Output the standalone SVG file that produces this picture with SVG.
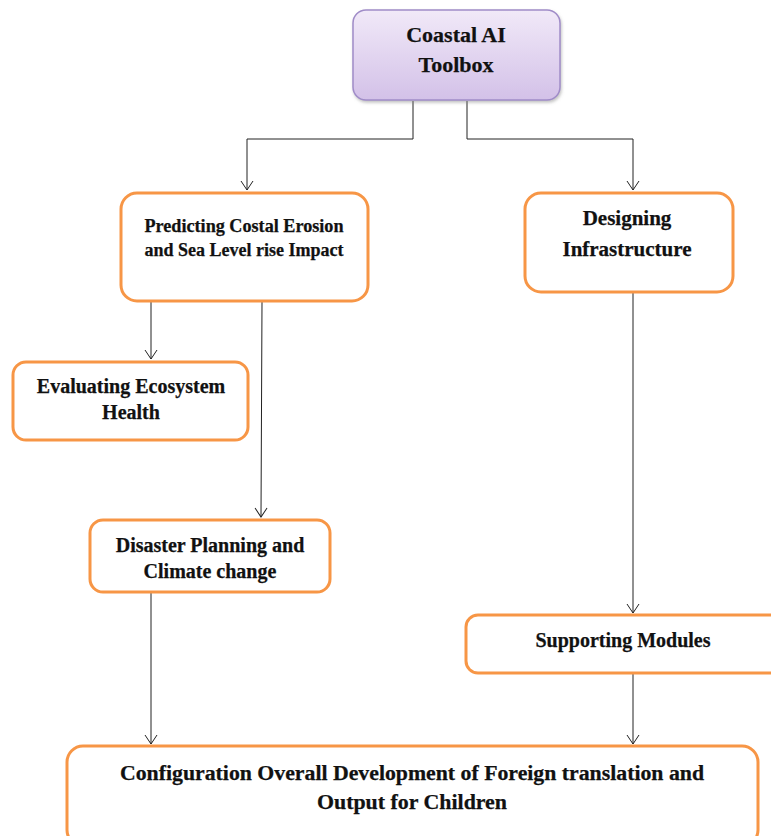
<svg xmlns="http://www.w3.org/2000/svg" width="771" height="836" viewBox="0 0 771 836">
<defs>
<linearGradient id="pg" x1="0" y1="0" x2="0" y2="1">
<stop offset="0" stop-color="#F1E9F8"/>
<stop offset="1" stop-color="#D3C1E8"/>
</linearGradient>
<marker id="ah" viewBox="0 0 12 14" refX="10" refY="7" markerWidth="12" markerHeight="14" markerUnits="userSpaceOnUse" orient="auto">
<path d="M1,1 L10,7 L1,13" fill="none" stroke="#222" stroke-width="1"/>
</marker>
<filter id="sh" x="-10%" y="-10%" width="130%" height="130%">
<feDropShadow dx="1" dy="2" stdDeviation="1.5" flood-color="#888" flood-opacity="0.5"/>
</filter>
</defs>
<style>
.box{fill:#fff;stroke:#F79646;stroke-width:3}
.top{fill:url(#pg);stroke:#A08CC8;stroke-width:1.5}
.t{font-family:"Liberation Serif","Times New Roman",serif;font-weight:bold;fill:#111;stroke:#111;stroke-width:0.25;text-anchor:middle}
.c{fill:none;stroke:#222;stroke-width:1}
</style>
<rect width="771" height="836" fill="#fff"/>
<g id="connectors">
<polyline class="c" points="413,101 413,139 247,139 247,190" marker-end="url(#ah)"/>
<polyline class="c" points="467,101 467,139 633,139 633,190" marker-end="url(#ah)"/>
<line class="c" x1="151" y1="302" x2="151" y2="359" marker-end="url(#ah)"/>
<line class="c" x1="262" y1="302" x2="261" y2="517" marker-end="url(#ah)"/>
<line class="c" x1="633" y1="292" x2="633" y2="613" marker-end="url(#ah)"/>
<line class="c" x1="151" y1="593" x2="151" y2="744" marker-end="url(#ah)"/>
<line class="c" x1="633" y1="673" x2="633" y2="744" marker-end="url(#ah)"/>
</g>
<g id="coastal">
<rect class="top" x="353" y="10" width="207" height="90" rx="13" filter="url(#sh)"/>
<text class="t" x="456" y="42" font-size="22">Coastal AI</text>
<text class="t" x="456" y="72" font-size="22">Toolbox</text>
</g>
<g id="predicting">
<rect class="box" x="121" y="193" width="247" height="108" rx="16"/>
<text class="t" x="244" y="232" font-size="18" textLength="199" lengthAdjust="spacingAndGlyphs">Predicting Costal Erosion</text>
<text class="t" x="244" y="256" font-size="18" textLength="199" lengthAdjust="spacingAndGlyphs">and Sea Level rise Impact</text>
</g>
<g id="designing">
<rect class="box" x="525" y="193" width="208" height="99" rx="16"/>
<text class="t" x="627" y="225" font-size="21">Designing</text>
<text class="t" x="627" y="256" font-size="21">Infrastructure</text>
</g>
<g id="evaluating">
<rect class="box" x="13" y="362" width="235" height="78" rx="13"/>
<text class="t" x="131" y="393" font-size="20">Evaluating Ecosystem</text>
<text class="t" x="131" y="419" font-size="20">Health</text>
</g>
<g id="disaster">
<rect class="box" x="90" y="520" width="240" height="72" rx="13"/>
<text class="t" x="210" y="552" font-size="20">Disaster Planning and</text>
<text class="t" x="210" y="578" font-size="20">Climate change</text>
</g>
<g id="supporting">
<rect class="box" x="466" y="615" width="320" height="58" rx="12"/>
<text class="t" x="623" y="647" font-size="20">Supporting Modules</text>
</g>
<g id="configuration">
<rect class="box" x="67" y="746" width="691" height="100" rx="16"/>
<text class="t" x="412" y="780" font-size="20" textLength="584" lengthAdjust="spacingAndGlyphs">Configuration Overall Development of Foreign translation and</text>
<text class="t" x="412" y="809" font-size="20" textLength="190" lengthAdjust="spacingAndGlyphs">Output for Children</text>
</g>
</svg>
